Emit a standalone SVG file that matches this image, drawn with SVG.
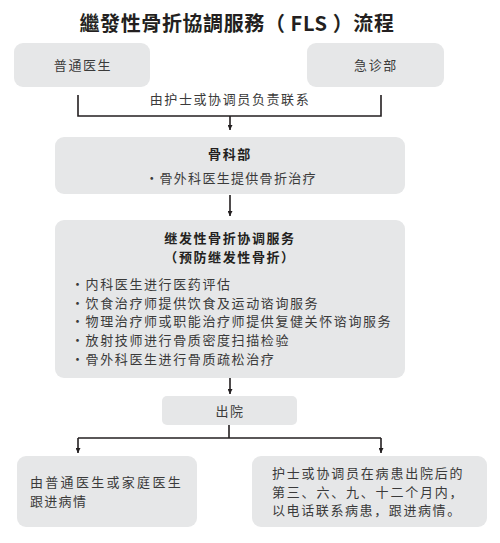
<svg xmlns="http://www.w3.org/2000/svg" width="500" height="543" viewBox="0 0 500 543">
<style>
.bg{fill:#ffffff}
.box{fill:#e6e7e8}
.t{font-family:"Noto Sans CJK SC","Noto Sans CJK TC",sans-serif;font-size:13px;fill:#3a3a3a;letter-spacing:1.6px}
.b{font-weight:bold;fill:#231f20}
.title{font-family:"Noto Sans CJK TC","Noto Sans CJK SC",sans-serif;font-size:20px;font-weight:bold;fill:#231f20;letter-spacing:0.6px}
.ln{stroke:#231f20;stroke-width:1.6;fill:none}
.mid{text-anchor:middle}
</style>
<defs>
<marker id="ah" viewBox="0 0 10 10" refX="10" refY="5" markerWidth="5" markerHeight="5" markerUnits="userSpaceOnUse" orient="auto">
<path d="M0,0 L10,5 L0,10 Z" fill="#231f20"/>
</marker>
</defs>
<rect class="bg" x="0" y="0" width="500" height="543"/>
<text class="title mid" x="237" y="31" xml:space="preserve">繼發性骨折協調服務（ FLS ）流程</text>

<g id="connectors">
<path class="ln" d="M78,95 V116 H381 V95"/>
<path class="ln" d="M230,116 V130" marker-end="url(#ah)"/>
<text class="t mid" x="230" y="104">由护士或协调员负责联系</text>
<path class="ln" d="M230,195 V216" marker-end="url(#ah)"/>
<path class="ln" d="M230,378 V394" marker-end="url(#ah)"/>
<path class="ln" d="M229,425 V438"/>
<path class="ln" d="M78,438 H381"/>
<path class="ln" d="M78,438 V453" marker-end="url(#ah)"/>
<path class="ln" d="M381,438 V453" marker-end="url(#ah)"/>
</g>

<g id="gp">
<rect class="box" x="14" y="43" width="136" height="44" rx="9"/>
<text class="t mid" x="83" y="70">普通医生</text>
</g>
<g id="ae">
<rect class="box" x="307" y="43" width="137" height="44" rx="9"/>
<text class="t mid" x="376" y="70">急诊部</text>
</g>
<g id="ortho">
<rect class="box" x="55" y="137" width="350" height="57" rx="9"/>
<text class="t b mid" x="230" y="159">骨科部</text>
<text class="t mid" x="231" y="183" style="letter-spacing:1.3px">・骨外科医生提供骨折治疗</text>
</g>
<g id="fls">
<rect class="box" x="55" y="220" width="350" height="158" rx="9"/>
<text class="t b mid" x="230" y="243">继发性骨折协调服务</text>
<text class="t b mid" x="230" y="262">（预防继发性骨折）</text>
<text class="t" x="71" y="289">・内科医生进行医药评估</text>
<text class="t" x="71" y="308">・饮食治疗师提供饮食及运动谘询服务</text>
<text class="t" x="71" y="326">・物理治疗师或职能治疗师提供复健关怀谘询服务</text>
<text class="t" x="71" y="345">・放射技师进行骨质密度扫描检验</text>
<text class="t" x="71" y="364">・骨外科医生进行骨质疏松治疗</text>
</g>
<g id="discharge">
<rect class="box" x="162" y="396" width="135" height="29" rx="5"/>
<text class="t mid" x="230" y="416">出院</text>
</g>
<g id="followgp">
<rect class="box" x="17" y="456" width="180" height="71" rx="9"/>
<text class="t" x="30" y="487" style="letter-spacing:2.3px">由普通医生或家庭医生</text>
<text class="t" x="30" y="506" style="letter-spacing:1.3px">跟进病情</text>
</g>
<g id="follownurse">
<rect class="box" x="252" y="456" width="235" height="71" rx="9"/>
<text class="t" x="272" y="478" style="letter-spacing:1.8px">护士或协调员在病患出院后的</text>
<text class="t" x="272" y="497" style="letter-spacing:1.8px">第三、六、九、十二个月内，</text>
<text class="t" x="272" y="515" style="letter-spacing:1.6px">以电话联系病患，跟进病情。</text>
</g>
</svg>
